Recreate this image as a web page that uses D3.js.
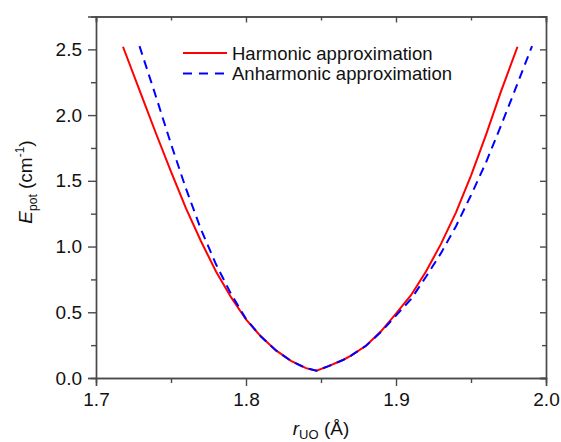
<!DOCTYPE html>
<html>
<head>
<meta charset="utf-8">
<script src="https://cdn.jsdelivr.net/npm/d3@7"></script>
<style>
  body { margin: 0; background: #fff; }
  svg { display: block; font-family: "Liberation Sans", Arial, sans-serif; }
</style>
</head>
<body>
<svg id="chart" width="561" height="442"></svg>
<script>
// ---- data ----
const rHarmonic = [1.718, 1.73, 1.74, 1.75, 1.76, 1.77, 1.78, 1.79, 1.80, 1.81, 1.82, 1.83, 1.84, 1.847, 1.855, 1.865, 1.87, 1.88, 1.89, 1.90, 1.91, 1.92, 1.93, 1.94, 1.95, 1.96, 1.97, 1.981];
const eHarmonic = [2.52, 2.16, 1.86, 1.57, 1.29, 1.04, 0.81, 0.615, 0.445, 0.315, 0.21, 0.13, 0.075, 0.055, 0.09, 0.139, 0.17, 0.245, 0.355, 0.49, 0.63, 0.81, 1.02, 1.26, 1.54, 1.85, 2.18, 2.52];
const rAnharmonic = [1.729, 1.74, 1.75, 1.76, 1.77, 1.78, 1.79, 1.80, 1.81, 1.82, 1.83, 1.84, 1.847, 1.855, 1.865, 1.87, 1.88, 1.89, 1.90, 1.91, 1.92, 1.93, 1.94, 1.95, 1.96, 1.97, 1.98, 1.9907];
const eAnharmonic = [2.525, 2.14, 1.78, 1.44, 1.13, 0.865, 0.64, 0.45, 0.315, 0.21, 0.13, 0.075, 0.055, 0.09, 0.139, 0.17, 0.245, 0.35, 0.475, 0.60, 0.77, 0.95, 1.155, 1.39, 1.64, 1.92, 2.21, 2.525];
const seriesNames = ["Harmonic approximation", "Anharmonic approximation"];
const seriesColors = ["#ff0000", "#0000ff"];
const xTicks = [1.7, 1.8, 1.9, 2.0];
const xMinorTicks = [1.75, 1.85, 1.95];
const yTicks = [0.0, 0.5, 1.0, 1.5, 2.0, 2.5];
const yMinorTicks = [0.25, 0.75, 1.25, 1.75, 2.25];

// ---- layout ----
const W = 561, H = 442;
const m = {left: 96, top: 16.5, right: 15, bottom: 64};
const svg = d3.select("#chart");
const x = d3.scaleLinear().domain([1.7, 2.0]).range([m.left, W - m.right]);
const y = d3.scaleLinear().domain([0, 2.75]).range([H - m.bottom, m.top]);
const axisColor = "#4a4a4a";
const fs = 19;

function styleAxis(g) {
  g.selectAll("path.domain").attr("stroke", axisColor).attr("stroke-width", 1.4);
  g.selectAll(".tick line").attr("stroke", axisColor).attr("stroke-width", 1.4);
  g.selectAll("text").attr("font-size", fs).attr("fill", "#111")
    .attr("font-family", '"Liberation Sans", Arial, sans-serif');
}

// minor ticks
svg.append("g").attr("transform", `translate(0,${y(0)})`)
  .call(d3.axisBottom(x).tickValues(xMinorTicks).tickSize(5).tickFormat(""))
  .call(styleAxis);
svg.append("g").attr("transform", `translate(${x(1.7)},0)`)
  .call(d3.axisLeft(y).tickValues(yMinorTicks).tickSize(5).tickFormat(""))
  .call(styleAxis);
svg.append("g").attr("transform", `translate(0,${m.top})`)
  .call(d3.axisBottom(x).tickValues(xMinorTicks).tickSize(4).tickFormat(""))
  .call(styleAxis);
svg.append("g").attr("transform", `translate(${x(2.0)},0)`)
  .call(d3.axisLeft(y).tickValues(yMinorTicks).tickSize(4).tickFormat(""))
  .call(styleAxis);

// major ticks
svg.append("g").attr("transform", `translate(0,${y(0)})`)
  .call(d3.axisBottom(x).tickValues(xTicks).tickSize(8).tickPadding(7).tickFormat(d3.format(".1f")))
  .call(styleAxis);
svg.append("g").attr("transform", `translate(${x(1.7)},0)`)
  .call(d3.axisLeft(y).tickValues(yTicks).tickSize(8).tickPadding(6).tickFormat(d3.format(".1f")))
  .call(styleAxis);
svg.append("g").attr("transform", `translate(0,${m.top})`)
  .call(d3.axisBottom(x).tickValues(xTicks).tickSize(6).tickFormat(""))
  .call(styleAxis);
svg.append("g").attr("transform", `translate(${x(2.0)},0)`)
  .call(d3.axisLeft(y).tickValues(yTicks).tickSize(6).tickFormat(""))
  .call(styleAxis);

// ---- curves ----
const line = d3.line().x(d => x(d[0])).y(d => y(d[1]));
const harm = rHarmonic.map((r, i) => [r, eHarmonic[i]]);
const anh = rAnharmonic.map((r, i) => [r, eAnharmonic[i]]);

svg.append("path").datum(harm).attr("d", line)
  .attr("fill", "none").attr("stroke", seriesColors[0]).attr("stroke-width", 2);
svg.append("path").datum(anh).attr("d", line)
  .attr("fill", "none").attr("stroke", seriesColors[1]).attr("stroke-width", 2)
  .attr("stroke-dasharray", "9,6");

// ---- legend ----
const leg = svg.append("g");
const legRows = [53, 73.5];
seriesNames.forEach((name, i) => {
  leg.append("line").attr("x1", 183).attr("x2", 227).attr("y1", legRows[i]).attr("y2", legRows[i])
    .attr("stroke", seriesColors[i]).attr("stroke-width", 2)
    .attr("stroke-dasharray", i === 1 ? "9,7" : null);
  leg.append("text").attr("x", 232).attr("y", legRows[i] + 6.5)
    .attr("font-size", 18.5).attr("fill", "#111").text(name);
});

// ---- axis titles ----
const xt = svg.append("text").attr("x", (x(1.7) + x(2.0)) / 2).attr("y", 435)
  .attr("text-anchor", "middle").attr("font-size", fs).attr("fill", "#111");
xt.append("tspan").attr("font-style", "italic").text("r");
xt.append("tspan").attr("font-size", 13).attr("dy", 4).text("UO");
xt.append("tspan").attr("dy", -4).text(" (Å)");

const yt = svg.append("text").attr("transform", "translate(32,182) rotate(-90)")
  .attr("text-anchor", "middle").attr("font-size", fs).attr("fill", "#111");
yt.append("tspan").attr("font-style", "italic").text("E");
yt.append("tspan").attr("font-size", 12).attr("dy", 5).text("pot");
yt.append("tspan").attr("dy", -5).text(" (cm");
yt.append("tspan").attr("font-size", 12).attr("dy", -8).text("-1");
yt.append("tspan").attr("dy", 8).text(")");
</script>
</body>
</html>
